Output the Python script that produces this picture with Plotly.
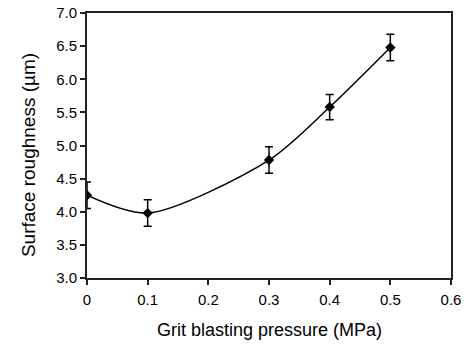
import plotly.graph_objects as go

# Grit blasting pressure (MPa) vs. surface roughness (µm)
pressure = [0.0, 0.1, 0.3, 0.4, 0.5]
roughness = [4.25, 3.98, 4.78, 5.58, 6.48]
roughness_err = [0.2, 0.2, 0.2, 0.19, 0.2]

x_ticks = [0, 0.1, 0.2, 0.3, 0.4, 0.5, 0.6]
x_tick_text = ["0", "0.1", "0.2", "0.3", "0.4", "0.5", "0.6"]
y_ticks = [3.0, 3.5, 4.0, 4.5, 5.0, 5.5, 6.0, 6.5, 7.0]

fig = go.Figure()
fig.add_trace(go.Scatter(
    x=pressure, y=roughness,
    mode="lines+markers",
    line=dict(color="black", width=1.5, shape="spline", smoothing=0.8),
    marker=dict(symbol="diamond", size=8, color="black"),
    error_y=dict(type="data", array=roughness_err, visible=True,
                 color="black", thickness=1.5, width=4),
    showlegend=False,
))

font_family = "Liberation Sans, Arial, sans-serif"
axis_common = dict(
    showline=True, linecolor="#222", linewidth=1.8, mirror=True,
    ticks="outside", ticklen=5, tickwidth=1.5, tickcolor="#222",
    showgrid=False, zeroline=False, automargin=False,
    tickfont=dict(family=font_family, size=15, color="black"),
)

fig.update_layout(
    width=474, height=345,
    margin=dict(l=87, r=23, t=13, b=67),
    paper_bgcolor="white", plot_bgcolor="white",
    xaxis=dict(range=[0, 0.6], tickvals=x_ticks, ticktext=x_tick_text,
               ticklabelstandoff=2, **axis_common),
    yaxis=dict(range=[3.0, 7.0], tickvals=y_ticks, tickformat=".1f",
               **axis_common),
)

# Axis titles placed as paper-anchored text
title_font = dict(family=font_family, size=18, color="black")
fig.add_annotation(text="Grit blasting pressure (MPa)", xref="paper", yref="paper",
                   x=0.5, y=-0.196, xanchor="center", yanchor="middle",
                   showarrow=False, font=title_font)
fig.add_annotation(text="Surface roughness (µm)", xref="paper", yref="paper",
                   x=-0.162, y=0.464, xanchor="center", yanchor="middle",
                   textangle=-90, showarrow=False,
                   font=dict(family=font_family, size=19, color="black"))

fig.write_html("out.html")
